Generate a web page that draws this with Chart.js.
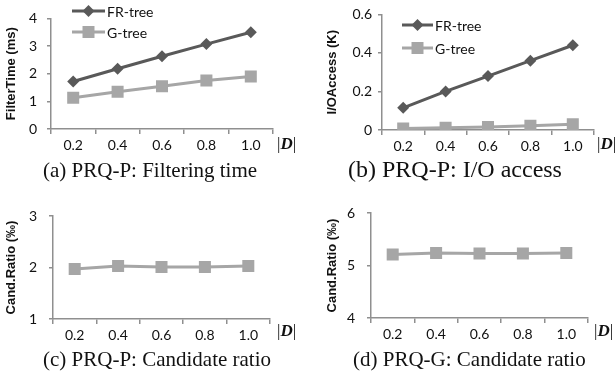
<!DOCTYPE html>
<html>
<head>
<meta charset="utf-8">
<script src="https://cdn.jsdelivr.net/npm/chart.js@4/dist/chart.umd.min.js"></script>
<style>
  body { margin: 0; background: #fff; }
  #wrap { position: relative; width: 615px; height: 374px; overflow: hidden; }
  canvas { position: absolute; }
  .cap { position: absolute; font-family: "Liberation Serif", serif; font-size: 21px; line-height: 24px; color: #111; white-space: nowrap; }
  .dl { position: absolute; font-family: "Liberation Serif", serif; font-size: 17px; color: #111; }
  .dl b { font-style: italic; }
</style>
</head>
<body>
<div id="wrap">
  <canvas id="ca" width="305" height="160" style="left:0;top:0"></canvas>
  <canvas id="cb" width="305" height="160" style="left:305px;top:0"></canvas>
  <canvas id="cc" width="305" height="160" style="left:0;top:190px"></canvas>
  <canvas id="cd" width="305" height="160" style="left:305px;top:190px"></canvas>
  <div class="cap" style="left:43px;top:158px">(a) PRQ-P: Filtering time</div>
  <div class="cap" style="left:348px;top:157px;font-size:24px">(b) PRQ-P: I/O access</div>
  <div class="cap" style="left:43px;top:347px">(c) PRQ-P: Candidate ratio</div>
  <div class="cap" style="left:353px;top:347px">(d) PRQ-G: Candidate ratio</div>
  <div class="dl" style="left:277px;top:134px">|<b>D</b>|</div>
  <div class="dl" style="left:597px;top:134px">|<b>D</b>|</div>
  <div class="dl" style="left:277px;top:321px">|<b>D</b>|</div>
  <div class="dl" style="left:594px;top:321px">|<b>D</b>|</div>
</div>
<script>
// data
var sizes = ['0.2', '0.4', '0.6', '0.8', '1.0'];
var frFilter = [1.72, 2.18, 2.63, 3.07, 3.5];
var gFilter = [1.13, 1.35, 1.55, 1.75, 1.9];
var frIO = [0.115, 0.2, 0.28, 0.36, 0.44];
var gIO = [0.008, 0.012, 0.016, 0.022, 0.03];
var candP = [1.97, 2.03, 2.01, 2.01, 2.03];
var candG = [5.21, 5.24, 5.23, 5.23, 5.24];

var dark = '#595959';
var light = '#a6a6a6';
var axisCol = '#8f8f8f';
var tickFont = { family: 'Lato, "DejaVu Sans", sans-serif', size: 14 };

function frSet(d) {
  return { label: 'FR-tree', data: d, borderColor: dark, backgroundColor: dark, borderWidth: 3,
    pointStyle: 'rectRot', pointRadius: 6, pointHoverRadius: 6, pointBorderWidth: 0 };
}
function gSet(d) {
  return { label: 'G-tree', data: d, borderColor: light, backgroundColor: light, borderWidth: 3,
    pointStyle: 'rect', pointRadius: 8.5, pointHoverRadius: 8.5, pointBorderWidth: 0 };
}

// legend drawn by hand: line with the marker in the middle
function legendPlugin(x0, x1, ys) {
  return {
    id: 'hlegend',
    afterDraw: function(chart) {
      var ctx = chart.ctx;
      chart.data.datasets.forEach(function(ds, i) {
        var y = ys[i], xm = (x0 + x1) / 2;
        ctx.save();
        ctx.strokeStyle = ds.borderColor;
        ctx.lineWidth = 3;
        ctx.beginPath(); ctx.moveTo(x0, y); ctx.lineTo(x1, y); ctx.stroke();
        ctx.fillStyle = ds.backgroundColor;
        ctx.beginPath();
        if (ds.pointStyle == 'rectRot') {
          ctx.moveTo(xm, y - 6); ctx.lineTo(xm + 6, y); ctx.lineTo(xm, y + 6); ctx.lineTo(xm - 6, y);
        } else {
          ctx.rect(xm - 6, y - 6, 12, 12);
        }
        ctx.fill();
        ctx.fillStyle = '#111';
        ctx.font = '14px Lato, "DejaVu Sans", sans-serif';
        ctx.textBaseline = 'middle';
        ctx.fillText(ds.label, x1 + 2, y + 1);
        ctx.restore();
      });
    }
  };
}

function makeChart(id, datasets, yMin, yMax, yStep, yTitle, box, extra) {
  var plugins = extra ? [extra] : [];
  return new Chart(document.getElementById(id), {
    type: 'line',
    data: { labels: sizes, datasets: datasets },
    plugins: plugins,
    options: {
      responsive: false,
      animation: false,
      layout: { padding: { left: 0, top: box.top, right: 305 - box.right, bottom: 0 } },
      plugins: { legend: { display: false }, tooltip: { enabled: false } },
      scales: {
        x: {
          offset: true,
          grid: { offset: true, drawOnChartArea: false, color: axisCol, tickLength: 5, lineWidth: 1.5 },
          border: { color: axisCol, width: 1.5 },
          ticks: { color: '#111', font: tickFont, padding: 3, maxRotation: 0 },
          afterFit: function(s) { s.height = 160 - box.bottom; }
        },
        y: {
          min: yMin, max: yMax,
          grid: { drawOnChartArea: false, color: axisCol, tickLength: 4, lineWidth: 1.5 },
          border: { color: axisCol, width: 1.5 },
          ticks: { stepSize: yStep, color: '#111', font: tickFont, padding: box.tp },
          title: { display: true, text: yTitle, color: '#111',
            font: { family: '"Liberation Sans", Arial, sans-serif', size: 13, weight: 'bold' },
            padding: { top: box.tt, bottom: 0 } },
          afterFit: function(s) { s.width = box.left; }
        }
      }
    }
  });
}

makeChart('ca', [frSet(frFilter), gSet(gFilter)], 0, 4, 1, 'FilterTime (ms)',
  { left: 51, right: 273, top: 8, bottom: 129, tp: 10, tt: 4 }, legendPlugin(72, 105, [11, 32]));
makeChart('cb', [frSet(frIO), gSet(gIO)], 0, 0.6, 0.2, 'I/OAccess (K)',
  { left: 77, right: 289, top: 13, bottom: 130, tp: 6, tt: 20 }, legendPlugin(97, 128, [25, 48]));
makeChart('cc', [gSet(candP)], 1, 3, 1, 'Cand.Ratio (‰)',
  { left: 53, right: 270, top: 26, bottom: 129, tp: 12, tt: 4 });
makeChart('cd', [gSet(candG)], 4, 6, 1, 'Cand.Ratio (‰)',
  { left: 66, right: 283, top: 23, bottom: 128, tp: 12, tt: 20 });
</script>
</body>
</html>
